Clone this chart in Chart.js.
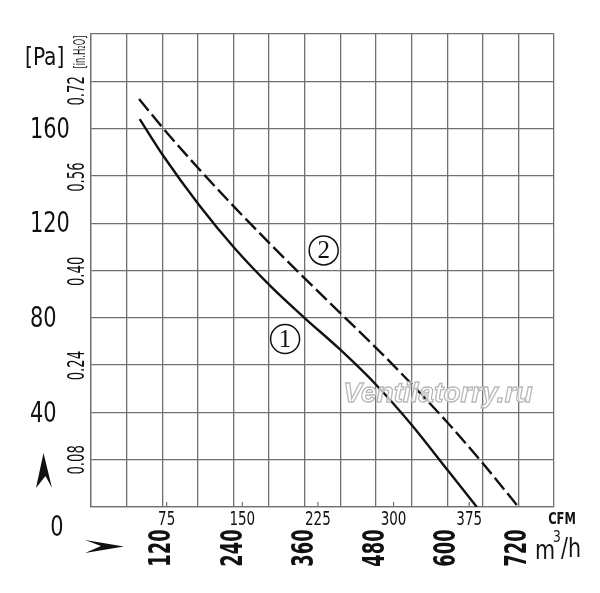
<!DOCTYPE html>
<html>
<head>
<meta charset="utf-8">
<script src="https://cdn.jsdelivr.net/npm/chart.js@4.4.1/dist/chart.umd.min.js"></script>
<style>
    html, body { margin: 0; padding: 0; background: #fff; }
    #wrap { width: 600px; height: 593px; position: relative; }
</style>
</head>
<body>
<div id="wrap"><canvas id="fanChart"></canvas></div>
<script>
// Curva 1 (línea continua): caudal m3/h y presión Pa
const flow1 = [82, 122, 182, 242, 302, 360, 420, 481, 540, 602, 650];
const pressure1 = [164, 148.4, 127.7, 109.4, 93.5, 79.9, 66.5, 51.5, 34.8, 15.2, 0];

// Curva 2 (línea discontinua)
const flow2 = [81, 122, 182, 242, 302, 360, 420, 481, 540, 602, 661, 720];
const pressure2 = [172.5, 160, 142.9, 126.7, 111.2, 96.7, 82, 67.1, 52, 35.3, 18.2, 0];

// Etiquetas de los ejes
const paTicks = [40, 80, 120, 160];
const inH2OTicks = ['0.08', '0.24', '0.40', '0.56', '0.72'];
const cfmTicks = [75, 150, 225, 300, 375];
const m3hTicks = [120, 240, 360, 480, 600, 720];

const PA_PER_INH2O = 249.09;
const M3H_PER_CFM = 1.699;
const NARROW = '"Liberation Sans Narrow", "DejaVu Sans Condensed", "Liberation Sans", sans-serif';
const GRID = '#707070';

function toPoints(xs, ys) {
    return xs.map(function(x, i) { return { x: x, y: ys[i] }; });
}

// Dibuja texto con escala horizontal y rotación opcional
function drawText(ctx, text, x, y, font, sx, rot, align) {
    ctx.save();
    ctx.translate(x, y);
    if (rot) ctx.rotate(rot);
    ctx.scale(sx, 1);
    ctx.font = font;
    ctx.textAlign = align || 'center';
    ctx.textBaseline = 'middle';
    ctx.fillStyle = '#111';
    ctx.fillText(text, 0, 0);
    ctx.restore();
}

const labelsPlugin = {
    id: 'labelsPlugin',
    afterDatasetsDraw: function(chart) {
        const ctx = chart.ctx;
        const xs = chart.scales.x, ys = chart.scales.y;
        const area = chart.chartArea;

        // marcas CFM hacia dentro
        ctx.save();
        ctx.strokeStyle = GRID;
        ctx.lineWidth = 1.2;
        cfmTicks.forEach(function(c) {
            const px = xs.getPixelForValue(c * M3H_PER_CFM);
            ctx.beginPath();
            ctx.moveTo(px, area.bottom);
            ctx.lineTo(px, area.bottom - 5);
            ctx.stroke();
        });
        ctx.restore();

        // marcas de curva
        [['1', 327, 71], ['2', 392, 108.5]].forEach(function(m) {
            const px = xs.getPixelForValue(m[1]);
            const py = ys.getPixelForValue(m[2]);
            ctx.save();
            ctx.strokeStyle = '#111';
            ctx.lineWidth = 1.5;
            ctx.beginPath();
            ctx.arc(px, py, 14.5, 0, Math.PI * 2);
            ctx.stroke();
            ctx.restore();
            drawText(ctx, m[0], px, py + 1, '25px "Liberation Serif", serif', 1, 0, 'center');
        });

        // marca de agua
        ctx.save();
        ctx.font = 'italic bold 28px "Liberation Sans", sans-serif';
        ctx.textAlign = 'center';
        ctx.textBaseline = 'alphabetic';
        ctx.fillStyle = 'rgba(255,255,255,0.7)';
        ctx.strokeStyle = '#b8b8b8';
        ctx.lineWidth = 1.3;
        ctx.fillText('Ventilatorry.ru', 438, 402);
        ctx.strokeText('Ventilatorry.ru', 438, 402);
        ctx.restore();
    },
    afterDraw: function(chart) {
        const ctx = chart.ctx;
        const xs = chart.scales.x, ys = chart.scales.y;
        const area = chart.chartArea;

        // unidades
        drawText(ctx, '[Pa]', 25, 58, '25px ' + NARROW, 0.9, 0, 'left');
        drawText(ctx, '[in.H\u2082O]', 81, 52, '15px ' + NARROW, 0.62, -Math.PI / 2, 'center');

        // Pa
        paTicks.forEach(function(v) {
            drawText(ctx, String(v), 30, ys.getPixelForValue(v) + 2, '28px ' + NARROW, 0.83, 0, 'left');
        });
        drawText(ctx, '0', 57, area.bottom + 22, '28px ' + NARROW, 0.83, 0, 'center');

        // in.H2O girados
        inH2OTicks.forEach(function(t) {
            let py = ys.getPixelForValue(parseFloat(t) * PA_PER_INH2O);
            if (t === '0.72') py += 8;
            drawText(ctx, t, 78, py, '23px ' + NARROW, 0.64, -Math.PI / 2, 'center');
        });

        // CFM
        cfmTicks.forEach(function(c) {
            drawText(ctx, String(c), xs.getPixelForValue(c * M3H_PER_CFM), area.bottom + 13, '20px ' + NARROW, 0.75, 0, 'center');
        });
        drawText(ctx, 'CFM', area.right + 8, area.bottom + 13, 'bold 15px ' + NARROW, 0.85, 0, 'center');

        // m3/h girados
        m3hTicks.forEach(function(v) {
            drawText(ctx, String(v), xs.getPixelForValue(v), area.bottom + 41, 'bold 31px ' + NARROW, 0.64, -Math.PI / 2, 'center');
        });
        drawText(ctx, 'm', 535, 552, '27px ' + NARROW, 0.85, 0, 'left');
        drawText(ctx, '3', 553, 538, '16px ' + NARROW, 0.85, 0, 'left');
        drawText(ctx, '/h', 561, 550, '27px ' + NARROW, 0.85, 0, 'left');

        // flechas
        ctx.save();
        ctx.fillStyle = '#111';
        ctx.beginPath();
        ctx.moveTo(43.5, 453);
        ctx.lineTo(52, 488);
        ctx.lineTo(45.5, 476);
        ctx.lineTo(36, 488);
        ctx.closePath();
        ctx.fill();
        ctx.beginPath();
        ctx.moveTo(124, 546.5);
        ctx.lineTo(85, 553);
        ctx.lineTo(101, 546);
        ctx.lineTo(85, 540);
        ctx.closePath();
        ctx.fill();
        ctx.restore();
    }
};

document.addEventListener('DOMContentLoaded', function() {
    const ctx = document.getElementById('fanChart').getContext('2d');
    new Chart(ctx, {
        type: 'line',
        data: {
            datasets: [{
                label: '1',
                data: toPoints(flow1, pressure1),
                borderColor: '#111',
                borderWidth: 2.4,
                pointRadius: 0,
                cubicInterpolationMode: 'monotone',
                fill: false
            }, {
                label: '2',
                data: toPoints(flow2, pressure2),
                borderColor: '#111',
                borderWidth: 2.4,
                borderDash: [15, 5],
                pointRadius: 0,
                cubicInterpolationMode: 'monotone',
                fill: false
            }]
        },
        options: {
            responsive: true,
            maintainAspectRatio: false,
            animation: false,
            layout: { padding: { left: 91, right: 46, top: 34, bottom: 86 } },
            plugins: { legend: { display: false }, tooltip: { enabled: false } },
            scales: {
                x: {
                    type: 'linear',
                    min: 0,
                    max: 780,
                    ticks: { stepSize: 60, display: false },
                    grid: { color: GRID, lineWidth: 1.3, drawTicks: false },
                    border: { color: GRID, width: 1.3 }
                },
                y: {
                    type: 'linear',
                    min: 0,
                    max: 200,
                    ticks: { stepSize: 20, display: false },
                    grid: { color: GRID, lineWidth: 1.3, drawTicks: false },
                    border: { color: GRID, width: 1.3 }
                }
            }
        },
        plugins: [labelsPlugin]
    });
});
</script>
</body>
</html>
